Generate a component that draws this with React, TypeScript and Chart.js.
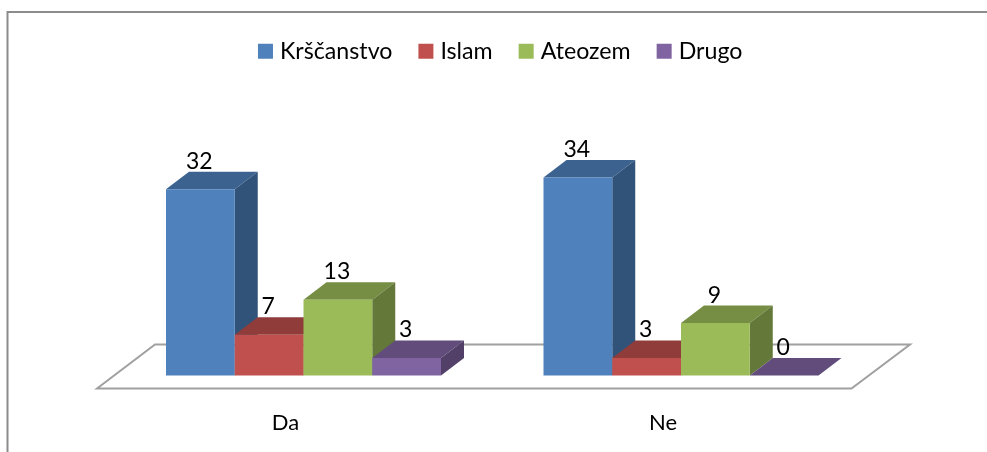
import React, { useEffect, useRef } from "react";
import { Chart, registerables } from "chart.js";

Chart.register(...registerables);

const categories = ["Da", "Ne"];
const seriesNames = ["Krščanstvo", "Islam", "Ateozem", "Drugo"];
const krscanstvo = [32, 34];
const islam = [7, 3];
const ateozem = [13, 9];
const drugo = [3, 0];
const frontColors = ["#4f81bd", "#c0504d", "#9bbb59", "#8064a2"];
const topColors = ["#3c6290", "#8f3c3a", "#768e44", "#614c7b"];
const sideColors = ["#325379", "#7b3331", "#637839", "#524068"];

const FONT = "Lato, Carlito, Calibri, sans-serif";
const DX = 23;
const DY = 17.5;

const bars3d = {
  id: "bars3d",
  beforeDraw(chart: any) {
    const { ctx, chartArea: a } = chart;
    const base = chart.scales.y.getPixelForValue(0);
    ctx.save();
    ctx.strokeStyle = "#8c8c8c";
    ctx.lineWidth = 2;
    // outer frame: only top and left edges are inside the crop
    ctx.beginPath();
    ctx.moveTo(7.5, chart.height);
    ctx.lineTo(7.5, 12);
    ctx.lineTo(chart.width, 12);
    ctx.stroke();
    // floor
    ctx.strokeStyle = "#a0a0a0";
    ctx.beginPath();
    ctx.moveTo(a.left - 17.75, base + 13);
    ctx.lineTo(a.left + 40.25, base - 31);
    ctx.lineTo(a.right + 40.25, base - 31);
    ctx.lineTo(a.right - 18.25, base + 13);
    ctx.closePath();
    ctx.stroke();
    ctx.restore();
  },
  beforeDatasetsDraw(chart: any) {
    const { ctx } = chart;
    const metas = chart.getSortedVisibleDatasetMetas();
    metas.forEach((meta: any, i: number) => {
      meta.data.forEach((bar: any) => {
        const l = bar.x - bar.width / 2;
        const r = bar.x + bar.width / 2;
        const t = bar.y;
        const b = bar.base;
        ctx.fillStyle = topColors[i];
        ctx.beginPath();
        ctx.moveTo(l, t);
        ctx.lineTo(l + DX, t - DY);
        ctx.lineTo(r + DX, t - DY);
        ctx.lineTo(r, t);
        ctx.closePath();
        ctx.fill();
        if (b - t > 0.5) {
          ctx.fillStyle = sideColors[i];
          ctx.beginPath();
          ctx.moveTo(r, t);
          ctx.lineTo(r + DX, t - DY);
          ctx.lineTo(r + DX, b - DY);
          ctx.lineTo(r, b);
          ctx.closePath();
          ctx.fill();
        }
      });
      meta.controller.draw();
    });
    ctx.save();
    ctx.fillStyle = "#000";
    ctx.font = `23px ${FONT}`;
    ctx.textAlign = "center";
    ctx.textBaseline = "middle";
    metas.forEach((meta: any) => {
      const values = chart.data.datasets[meta.index].data;
      meta.data.forEach((bar: any, j: number) => {
        ctx.fillText(String(values[j]), bar.x - 1, bar.y - DY - 10.5);
      });
    });
    ctx.restore();
    return false;
  },
};

export default function App() {
  const ref = useRef<HTMLCanvasElement>(null);
  useEffect(() => {
    const series = [krscanstvo, islam, ateozem, drugo];
    const chart = new Chart(ref.current!, {
      type: "bar",
      data: {
        labels: categories,
        datasets: seriesNames.map((label, i) => ({
          label,
          data: series[i],
          backgroundColor: frontColors[i],
          borderWidth: 0,
        })),
      },
      plugins: [bars3d],
      options: {
        responsive: false,
        animation: false,
        datasets: { bar: { categoryPercentage: 0.7285, barPercentage: 1 } },
        layout: { padding: { left: 18, right: 0, top: 9, bottom: 0 } },
        plugins: {
          tooltip: { enabled: false },
          legend: {
            position: "top",
            labels: {
              font: { family: FONT, size: 23.2 },
              color: "#000",
              boxWidth: 5.8,
              boxHeight: 5.8,
              padding: 30.6,
              generateLabels(c: any) {
                return Chart.defaults.plugins.legend.labels
                  .generateLabels(c)
                  .map((it: any, i: number) => ({
                    ...it,
                    strokeStyle: frontColors[i],
                    lineWidth: 9.2,
                  }));
              },
            },
          },
        },
        scales: {
          x: {
            grid: { display: false, drawTicks: false },
            border: { display: false },
            ticks: {
              font: { family: FONT, size: 22 },
              color: "#000",
              padding: 34,
              labelOffset: -18,
              maxRotation: 0,
            },
            afterFit(s: any) {
              s.height = 76.5;
            },
          },
          y: {
            min: 0,
            max: 52,
            position: "left",
            grid: { display: false, drawTicks: false },
            border: { display: false },
            ticks: { display: false },
            afterFit(s: any) {
              s.width = 96.75;
            },
          },
          yRight: {
            type: "linear",
            position: "right",
            grid: { display: false, drawTicks: false },
            border: { display: false },
            ticks: { display: false },
            afterFit(s: any) {
              s.width = 117.25;
            },
          },
        },
      },
    } as any);
    return () => chart.destroy();
  }, []);
  return (
    <div style={{ position: "fixed", left: 0, top: 0, width: 987, height: 452, background: "#fff" }}>
      <canvas ref={ref} width={987} height={452} style={{ display: "block" }} />
    </div>
  );
}
